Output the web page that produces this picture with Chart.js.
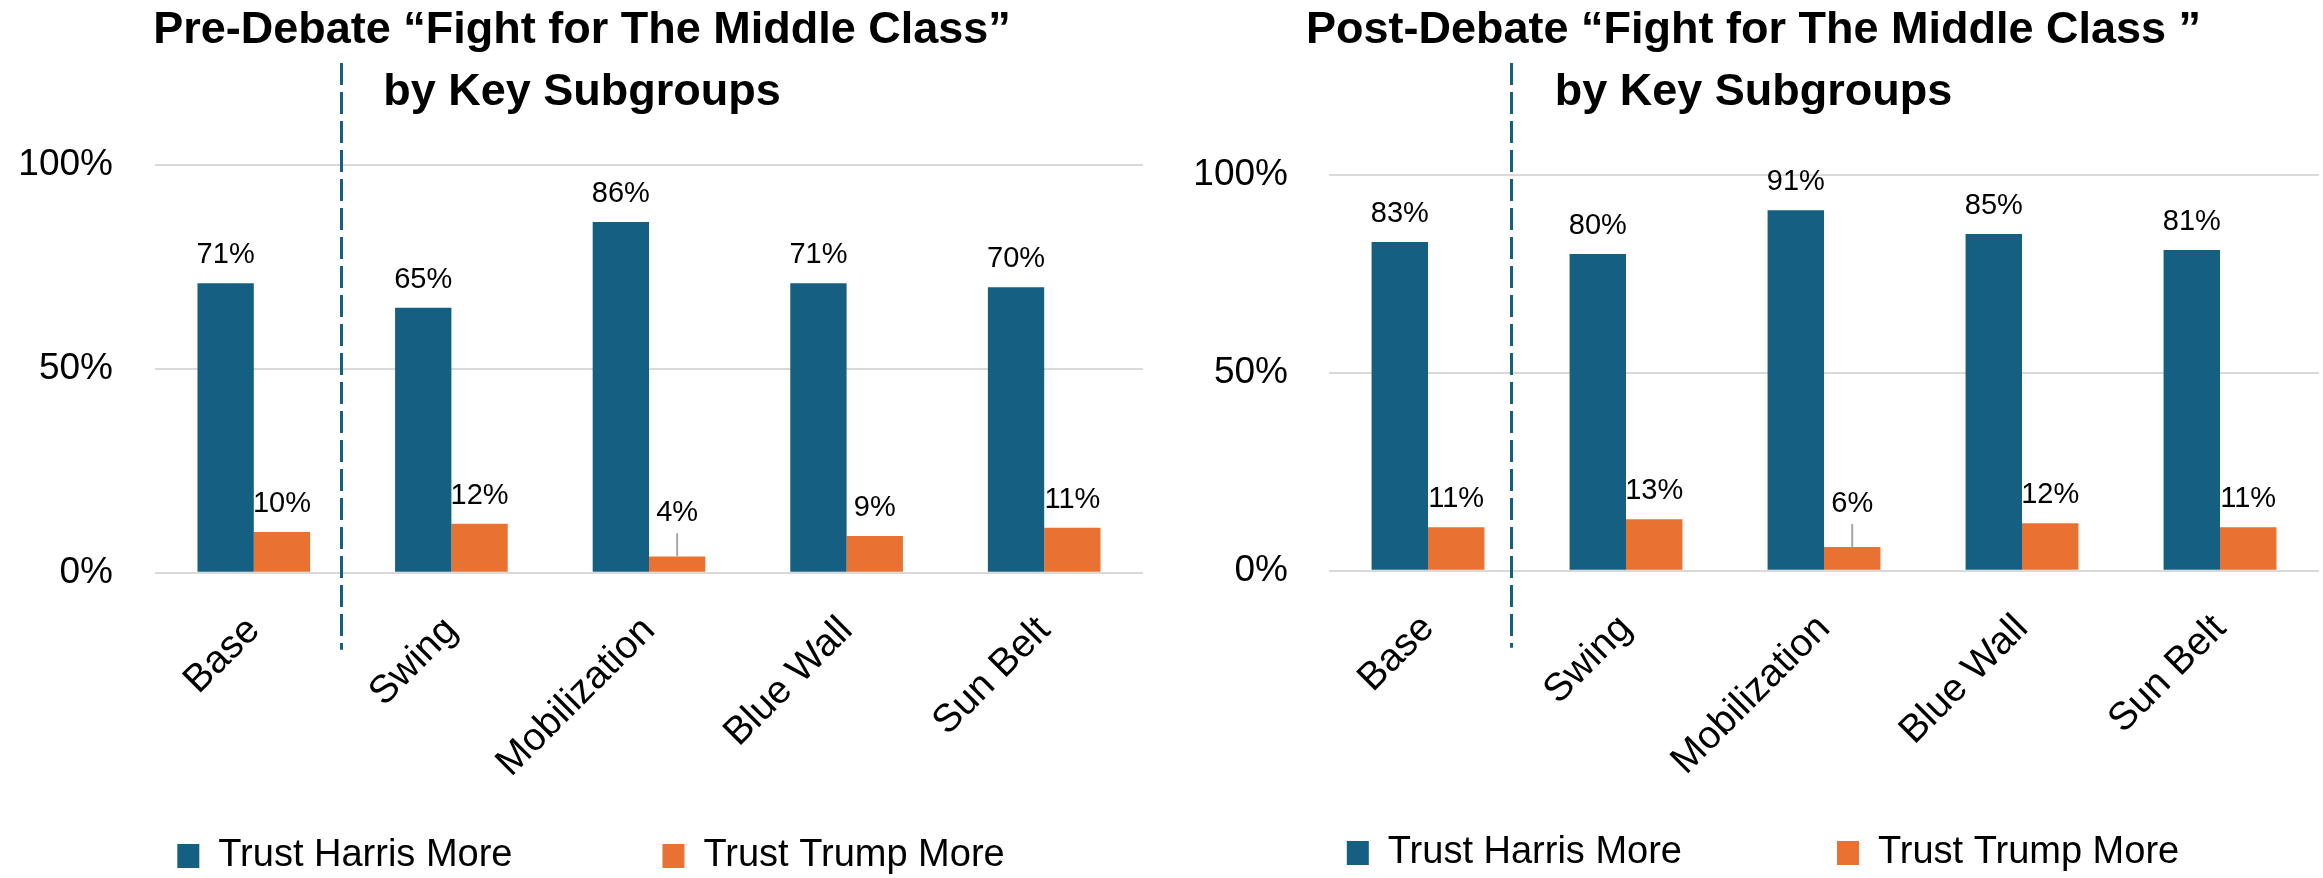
<!DOCTYPE html>
<html>
<head>
<meta charset="utf-8">
<script src="https://cdn.jsdelivr.net/npm/chart.js@4"></script>
<style>
  html, body { margin: 0; padding: 0; background: #ffffff; }
  #wrap { position: relative; width: 2323px; height: 878px; overflow: hidden; }
  canvas { position: absolute; top: 0; }
</style>
</head>
<body>
<div id="wrap">
  <canvas id="pre" width="1160" height="878" style="left:0px"></canvas>
  <canvas id="post" width="1163" height="878" style="left:1160px"></canvas>
</div>
<script>
// ---------------- DATA ----------------
const categories = ['Base', 'Swing', 'Mobilization', 'Blue Wall', 'Sun Belt'];
const seriesNames = ['Trust Harris More', 'Trust Trump More'];
const preHarris = [71, 65, 86, 71, 70];
const preTrump = [10, 12, 4, 9, 11];
const postHarris = [83, 80, 91, 85, 81];
const postTrump = [11, 13, 6, 12, 11];
const yTickValues = [0, 50, 100];
const preTitle = ['Pre-Debate \u201cFight for The Middle Class\u201d', 'by Key Subgroups'];
const postTitle = ['Post-Debate \u201cFight for The Middle Class \u201d', 'by Key Subgroups'];

// ---------------- STYLE ----------------
const BLUE = '#156082';
const ORANGE = '#E97132';
const GRID = '#D9D9D9';
const FONT = "'Liberation Sans', Arial, Helvetica, sans-serif";
const LEGEND_FONT = 38;
Chart.defaults.font.family = FONT;
Chart.defaults.color = '#000000';

// value labels drawn above bars (with leader line for very short bars)
const valueLabels = {
  id: 'valueLabels',
  afterDatasetsDraw(chart) {
    const ctx = chart.ctx;
    ctx.save();
    ctx.font = '29px ' + FONT;
    ctx.fillStyle = '#000000';
    ctx.textAlign = 'center';
    ctx.textBaseline = 'alphabetic';
    chart.data.datasets.forEach((ds, di) => {
      const meta = chart.getDatasetMeta(di);
      meta.data.forEach((bar, i) => {
        const v = ds.data[i];
        const small = v < 8;
        const base = bar.y - (small ? 35 : 20);
        ctx.fillText(v + '%', bar.x, base);
        if (small) {
          ctx.strokeStyle = '#A6A6A6';
          ctx.lineWidth = 2;
          ctx.beginPath();
          ctx.moveTo(bar.x, bar.y - 23);
          ctx.lineTo(bar.x, bar.y);
          ctx.stroke();
        }
      });
    });
    ctx.restore();
  }
};

// dashed separator between "Base" and the other groups
const separator = {
  id: 'separator',
  afterDatasetsDraw(chart, args, opts) {
    const xs = chart.scales.x;
    const p0 = xs.getPixelForValue(0), p1 = xs.getPixelForValue(1);
    const x = Math.round((p0 + p1) / 2 + opts.shift * (p1 - p0)) + 0.5;
    const ctx = chart.ctx;
    ctx.save();
    ctx.strokeStyle = BLUE;
    ctx.lineWidth = 3;
    ctx.setLineDash([22, 7]);
    ctx.beginPath();
    ctx.moveTo(x, opts.top);
    ctx.lineTo(x, chart.chartArea.bottom + opts.below);
    ctx.stroke();
    ctx.restore();
  }
};

// small horizontal nudges of title / legend blocks
const nudge = {
  id: 'nudge',
  afterLayout(chart, args, opts) {
    if (chart.titleBlock) { chart.titleBlock.left += opts.title; chart.titleBlock.right += opts.title; }
    if (chart.legend) { chart.legend.left += opts.legend; chart.legend.right += opts.legend; }
  }
};

function makeChart(id, titleLines, harris, trump, cfg) {
  const xHeight = 878 - cfg.padBottom - (LEGEND_FONT + cfg.legendGap + 10) - cfg.areaBottom;
  return new Chart(document.getElementById(id), {
    type: 'bar',
    data: {
      labels: categories,
      datasets: [
        { label: seriesNames[0], data: harris, backgroundColor: BLUE, borderWidth: 0,
          categoryPercentage: 0.57, barPercentage: 1.0 },
        { label: seriesNames[1], data: trump, backgroundColor: ORANGE, borderWidth: 0,
          categoryPercentage: 0.57, barPercentage: 1.0 }
      ]
    },
    options: {
      responsive: false,
      animation: false,
      events: [],
      layout: { padding: { left: 0, right: cfg.padRight, top: 0, bottom: cfg.padBottom } },
      scales: {
        x: {
          grid: { display: false, drawTicks: false },
          border: { display: false },
          ticks: {
            autoSkip: false, minRotation: 45, maxRotation: 45, padding: 35,
            color: '#000000', font: { size: 39 }
          },
          afterFit(scale) {
            scale.height = xHeight;
            // let rotated labels run below the (shortened) axis box
            scale._computeLabelArea = function () { return undefined; };
          }
        },
        y: {
          min: 0, max: 100,
          grid: { color: GRID, lineWidth: 2, drawTicks: false },
          border: { display: false },
          afterBuildTicks(scale) { scale.ticks = yTickValues.map(v => ({ value: v })); },
          ticks: {
            padding: cfg.yPad, color: '#000000', font: { size: 37 },
            callback: v => v + '%'
          },
          afterFit(scale) { scale.width = cfg.yWidth; }
        }
      },
      plugins: {
        title: {
          display: true, text: titleLines, color: '#000000',
          font: { size: 45, weight: 'bold', lineHeight: 1.378 },
          padding: { top: 0, bottom: cfg.titlePadBottom }
        },
        legend: {
          display: true, position: 'bottom',
          labels: {
            color: '#000000', font: { size: LEGEND_FONT },
            boxWidth: 22, boxHeight: 24, padding: cfg.legendGap
          }
        },
        tooltip: { enabled: false },
        separator: { shift: cfg.sepShift, top: 63, below: 77 },
        nudge: { title: cfg.titleShift, legend: cfg.legendShift }
      }
    },
    plugins: [valueLabels, separator, nudge]
  });
}

makeChart('pre', preTitle, preHarris, preTrump, {
  padRight: 17, padBottom: -7, legendGap: 150, areaBottom: 572.7,
  yWidth: 155, yPad: 42,
  titlePadBottom: 41, sepShift: -0.06, titleShift: 10.5, legendShift: 19.5
});
makeChart('post', postTitle, postHarris, postTrump, {
  padRight: 4, padBottom: -4, legendGap: 155, areaBottom: 570.7,
  yWidth: 169, yPad: 41,
  titlePadBottom: 50.7, sepShift: -0.082, titleShift: 14, legendShift: 23.5
});
</script>
</body>
</html>
